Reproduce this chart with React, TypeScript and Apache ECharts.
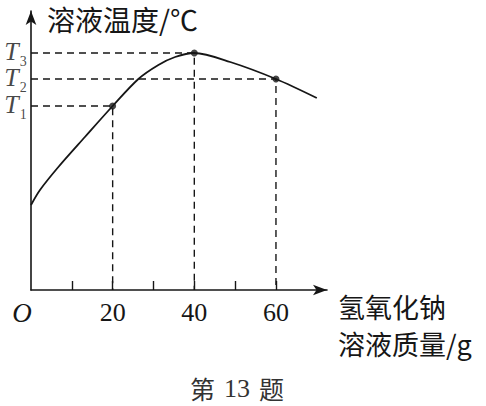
import React, { useEffect, useRef } from 'react';
import * as echarts from 'echarts';

// curve (x: g of solution, y: temperature in arbitrary units)
const massValues = [0, 2.2, 6.7, 13.2, 20, 26.3, 31.2, 35.3, 40, 48.8, 60, 70];
const tempValues = [85, 100, 123, 153, 184, 211, 225, 233, 237, 228, 211, 192];

// marked points with dashed guides
const markedMass = [20, 40, 60];
const markedTemp = [184, 237, 211];

// y labels T1, T2, T3
const tValues = [184, 211, 237];
const tSubs = ['1', '2', '3'];

const xLabelValues = [0, 20, 40, 60];
const xTickValues = [10, 20, 30, 40, 50, 60];

const INK = '#161616';
const SERIF = '"Liberation Serif", "DejaVu Serif", serif';
const CJK = '"Noto Sans CJK SC", sans-serif';

const App: React.FC = () => {
  const chartRef = useRef<HTMLDivElement>(null);

  useEffect(() => {
    const chart = echarts.init(chartRef.current!, null, { renderer: 'svg' });

    const guideSeries = markedMass.map((m, i) => ({
      type: 'line',
      data: [
        [0, markedTemp[i]],
        [m, markedTemp[i]],
        [m, 0],
      ],
      symbol: 'none',
      lineStyle: { color: INK, width: 1.4, type: [7, 5] },
      silent: true,
      z: 1,
    }));

    const options = {
      animation: false,
      backgroundColor: '#fff',
      title: {
        text: '第{n|13}题',
        left: 237,
        textAlign: 'center',
        top: 375,
        padding: 0,
        textStyle: {
          fontFamily: CJK,
          fontSize: 25,
          fontWeight: 'normal',
          color: '#333',
          lineHeight: 26,
          rich: {
            n: { fontFamily: SERIF, fontSize: 26, color: '#333', lineHeight: 26, padding: [0, 9] },
          },
        },
      },
      grid: { left: 31, right: 159, top: 11, bottom: 116 },
      xAxis: {
        type: 'value',
        min: 0,
        max: 72.5,
        name: '氢氧化钠\n溶液质量/g',
        nameLocation: 'end',
        nameGap: 11,
        nameTextStyle: {
          fontFamily: CJK,
          fontSize: 27,
          color: INK,
          align: 'left',
          verticalAlign: 'top',
          lineHeight: 37,
          padding: [-2, 0, 0, 0],
        },
        axisLine: {
          show: true,
          symbol: ['none', 'arrow'],
          symbolSize: [8, 14],
          lineStyle: { color: INK, width: 1.6 },
        },
        axisTick: {
          show: true,
          inside: true,
          length: 9,
          customValues: xTickValues,
          lineStyle: { color: INK, width: 1.4 },
        },
        axisLabel: {
          customValues: xLabelValues,
          margin: 9,
          hideOverlap: false,
          showMinLabel: true,
          showMaxLabel: true,
          formatter: (v: number) => (v === 0 ? '{o|O}' : '{n|' + v + '}'),
          rich: {
            o: { fontFamily: SERIF, fontStyle: 'italic', fontSize: 27, color: INK, padding: [0, 18, 0, 0] },
            n: { fontFamily: SERIF, fontSize: 26, color: INK },
          },
        },
        splitLine: { show: false },
      },
      yAxis: {
        type: 'value',
        min: 0,
        max: 279,
        name: '溶液温度/℃',
        nameLocation: 'end',
        nameGap: -8,
        nameTextStyle: {
          fontFamily: CJK,
          fontSize: 28,
          lineHeight: 30,
          color: INK,
          align: 'left',
          verticalAlign: 'middle',
          padding: [0, 0, 0, 16],
        },
        axisLine: {
          show: true,
          symbol: ['none', 'arrow'],
          symbolSize: [8, 14],
          lineStyle: { color: INK, width: 1.6 },
        },
        axisTick: { show: false },
        axisLabel: { show: false },
        splitLine: { show: false },
      },
      series: [
        ...guideSeries,
        {
          type: 'line',
          data: massValues.map((m, i) => [m, tempValues[i]]),
          smooth: 0.3,
          symbol: 'none',
          lineStyle: { color: INK, width: 1.8 },
          z: 3,
        },
        {
          type: 'scatter',
          data: markedMass.map((m, i) => [m, markedTemp[i]]),
          symbol: 'circle',
          symbolSize: 7,
          itemStyle: { color: INK },
          z: 4,
        },
        {
          // T1, T2, T3 labels beside the y axis
          type: 'scatter',
          data: tValues.map((v, i) => ({ value: [0, v], sub: tSubs[i] })),
          symbolSize: 0,
          silent: true,
          clip: false,
          label: {
            show: true,
            position: 'left',
            distance: 4,
            formatter: (p: any) => '{t|T}{s|' + p.data.sub + '}{h| }',
            rich: {
              t: { fontFamily: SERIF, fontStyle: 'italic', fontSize: 26, color: INK, lineHeight: 18, verticalAlign: 'top', padding: [-4, 0, 0, 0] },
              s: { fontFamily: SERIF, fontSize: 14, color: INK, lineHeight: 8, verticalAlign: 'bottom', padding: [0, 0, -4, 1] },
              h: { fontSize: 1, lineHeight: 22 },
            },
          },
          z: 5,
        },
      ],
    };

    chart.setOption(options as any);

    return () => {
      chart.dispose();
    };
  }, []);

  return (
    <div
      ref={chartRef}
      style={{ position: 'absolute', left: 0, top: 0, width: '486px', height: '406px' }}
    />
  );
};

export default App;
